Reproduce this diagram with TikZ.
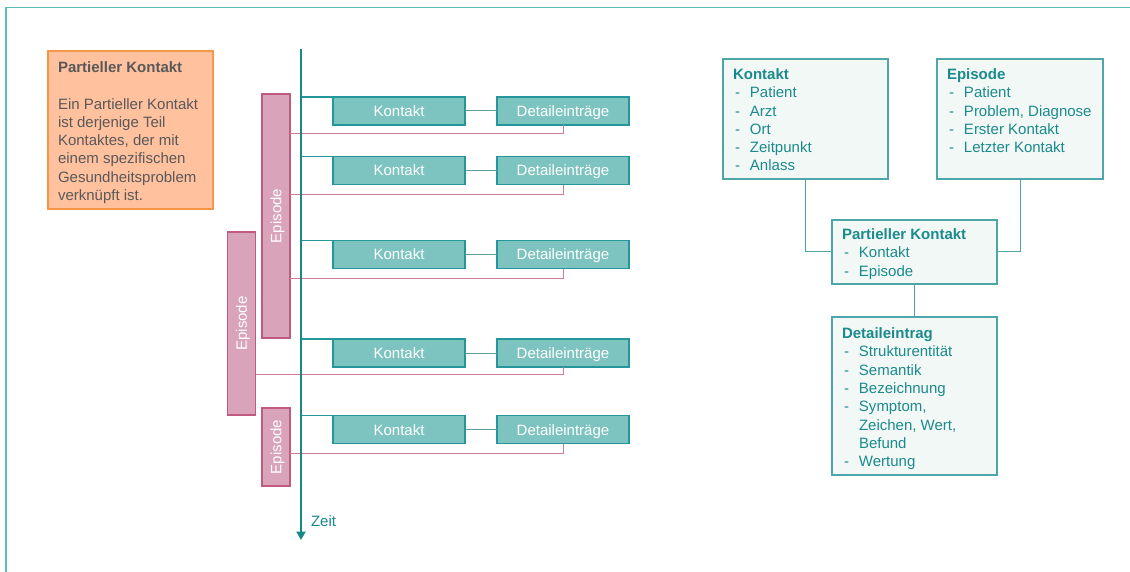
\documentclass[tikz,border=0pt]{standalone}
\usepackage{fontspec}
\setmainfont{Liberation Sans}
\usetikzlibrary{arrows.meta}
\definecolor{frameteal}{HTML}{5BBDBD}
\definecolor{axisteal}{HTML}{17898B}
\definecolor{kfill}{HTML}{7DC4C0}
\definecolor{kdraw}{HTML}{24979A}
\definecolor{infofill}{HTML}{F2F8F6}
\definecolor{infodraw}{HTML}{4FA6A6}
\definecolor{infotext}{HTML}{1B8A8C}
\definecolor{epfill}{HTML}{D9A4BA}
\definecolor{epdraw}{HTML}{C05A80}
\definecolor{epline}{HTML}{D27A98}
\definecolor{notefill}{HTML}{FFC19E}
\definecolor{notedraw}{HTML}{F79646}
\definecolor{notetext}{HTML}{595959}
\definecolor{linkgray}{HTML}{5E9EA0}
\newcommand{\itemdash}{\hspace{2pt}-}
\begin{document}
\begin{tikzpicture}[x=1pt,y=-1pt,
  every node/.style={font=\fontsize{15}{18.3}\selectfont, inner sep=0pt, outer sep=0pt},
  kbox/.style={draw=kdraw, fill=kfill, line width=1.5pt, text=white,
    minimum width=132, minimum height=28, anchor=north west,
    text height=10.6pt, text depth=0pt},
  epbox/.style={draw=epdraw, fill=epfill, line width=1.5pt, anchor=north west, minimum width=28},
  eptext/.style={rotate=90, text=white, text height=10.6pt, text depth=0pt},
  infobox/.style={draw=infodraw, fill=infofill, line width=1.2pt, anchor=north west},
  infotxt/.style={anchor=base west, text=infotext},
  notebox/.style={draw=notedraw, fill=notefill, line width=1.2pt, anchor=north west},
  eplink/.style={draw=epline, line width=1pt},
  tlink/.style={draw=kdraw, line width=1.2pt},
  klink/.style={draw=linkgray, line width=1pt},
  ilink/.style={draw=infodraw, line width=1pt},
  axis/.style={draw=axisteal, line width=2.6pt}
]
\useasboundingbox (0,0) rectangle (1130,572);
\fill[white] (0,0) rectangle (1130,572);

% outer frame (top and left edges)
\draw[frameteal, line width=1.3pt] (6,572) -- (6,7.5) -- (1130,7.5);

% explanatory note
\node[notebox, minimum width=165, minimum height=158] (note) at (48,51) {};
\node[anchor=base west, text=notetext] (notetxt) at (58,72.5) {%
  \begin{tabular}[t]{@{}l@{}}
  \textbf{Partieller Kontakt}\\
  \\
  Ein Partieller Kontakt\\
  ist derjenige Teil\\
  Kontaktes, der mit\\
  einem spezifischen\\
  Gesundheitsproblem\\
  verknüpft ist.
  \end{tabular}};

% episode bars
\node[epbox, minimum height=244] (ep1) at (262,94) {};
\node[eptext] (ep1txt) at (ep1.center) {Episode};
\node[epbox, minimum height=183] (ep2) at (227.5,232) {};
\node[eptext] (ep2txt) at (ep2.center) {Episode};
\node[epbox, minimum height=78] (ep3) at (262,408) {};
\node[eptext] (ep3txt) at (ep3.center) {Episode};

% time axis
\coordinate (axtop) at (301,49);
\coordinate (axbot) at (301,540);

% contacts with their detail entries
\foreach \i/\t/\p/\e in {1/97/133.3/ep1, 2/156.7/194.3/ep1, 3/240.7/278.3/ep1,
                          4/339/374.3/ep2, 5/415.7/453.3/ep3} {
  \node[kbox] (k\i) at (333,\t) {Kontakt};
  \node[kbox] (d\i) at (497,\t) {Detaileinträge};
  \coordinate (py\i) at (0,\p);
  \draw[eplink] (\e.east |- py\i) -| (d\i.south);
  \draw[tlink] (k\i.north west -| axtop) -- (k\i.north west);
  \draw[klink] (k\i.east) -- (d\i.west);
}

\draw[axis, -{Triangle[width=9pt,length=8.5pt]}] (axtop) -- (axbot);
\node[anchor=west, text=axisteal] (zeit) at (311,521) {Zeit};

% entity model
\node[infobox, minimum width=165, minimum height=120] (ik) at (723,59) {};
\node[infotxt] (iktxt) at (733,79.5) {%
  \begin{tabular}[t]{@{}p{17pt}@{}l@{}}
  \multicolumn{2}{@{}l@{}}{\textbf{Kontakt}}\\
  \itemdash & Patient\\
  \itemdash & Arzt\\
  \itemdash & Ort\\
  \itemdash & Zeitpunkt\\
  \itemdash & Anlass
  \end{tabular}};

\node[infobox, minimum width=166, minimum height=120] (ie) at (937,59) {};
\node[infotxt] (ietxt) at (947,79.5) {%
  \begin{tabular}[t]{@{}p{17pt}@{}l@{}}
  \multicolumn{2}{@{}l@{}}{\textbf{Episode}}\\
  \itemdash & Patient\\
  \itemdash & Problem, Diagnose\\
  \itemdash & Erster Kontakt\\
  \itemdash & Letzter Kontakt
  \end{tabular}};

\node[infobox, minimum width=165, minimum height=64] (ip) at (832,220) {};
\node[infotxt] (iptxt) at (842,239.5) {%
  \begin{tabular}[t]{@{}p{17pt}@{}l@{}}
  \multicolumn{2}{@{}l@{}}{\textbf{Partieller Kontakt}}\\
  \itemdash & Kontakt\\
  \itemdash & Episode
  \end{tabular}};

\node[infobox, minimum width=165, minimum height=158] (id) at (832,317) {};
\node[infotxt] (idtxt) at (842,338.5) {%
  \begin{tabular}[t]{@{}p{17pt}@{}l@{}}
  \multicolumn{2}{@{}l@{}}{\textbf{Detaileintrag}}\\
  \itemdash & Strukturentität\\
  \itemdash & Semantik\\
  \itemdash & Bezeichnung\\
  \itemdash & Symptom,\\
     & Zeichen, Wert,\\
     & Befund\\
  \itemdash & Wertung
  \end{tabular}};

\coordinate (kjoin) at (805.7,252);
\coordinate (ejoin) at (1020.7,252);
\draw[ilink] (ik.south -| kjoin) |- (ip.west);
\draw[ilink] (ie.south -| ejoin) |- (ip.east);
\draw[ilink] (ip.south) -- (id.north);
\end{tikzpicture}
\end{document}
